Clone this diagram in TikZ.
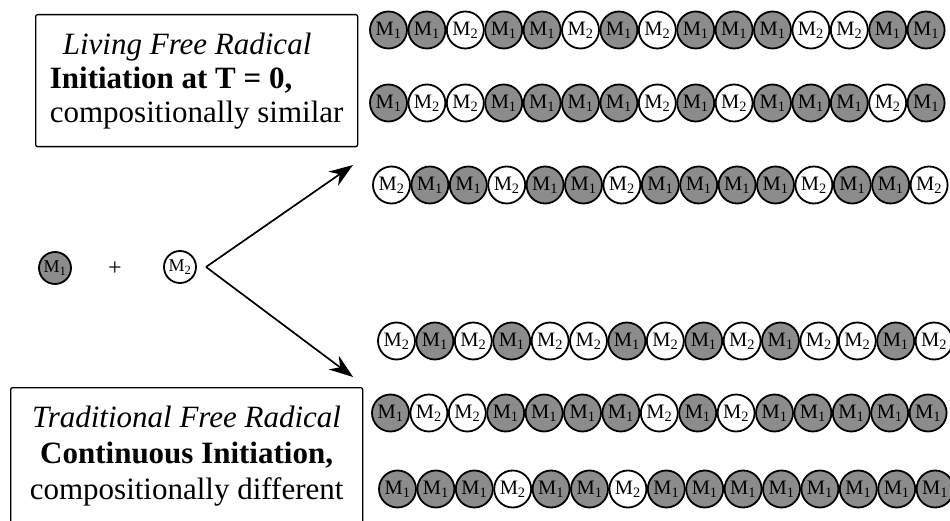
\documentclass[tikz,border=0pt]{standalone}
\usepackage{fontspec}
\setmainfont{Liberation Serif}
\usetikzlibrary{arrows.meta,positioning}
\colorlet{shade1}{black!45}
\colorlet{shade2}{white}
\tikzset{
  >={Stealth[length=24pt,width=17pt]},
  monomer/.style={circle,draw=black,line width=1.8pt,minimum size=37pt,
    inner sep=0pt,fill=shade#1,font=\fontsize{20.5}{20}\selectfont},
  reactant/.style={monomer=#1,minimum size=32pt,font=\fontsize{18}{18}\selectfont},
  infobox/.style={draw=black,line width=1.3pt,rounded corners=2pt,inner sep=0pt,
    anchor=north west,font=\fontsize{31}{34}\selectfont},
  react/.style={->,line width=1.7pt},
}

\begin{document}
\begin{tikzpicture}[x=1pt,y=-1pt]
  \clip (0,0) rectangle (950,521);

  % reactants and the two routes
  \node[reactant=1] (mone) at (55,268) {M\textsubscript{1}};
  \node[font=\fontsize{24}{24}\selectfont] (plus) at (115,269) {+};
  \node[reactant=2] (mtwo) at (180,267) {M\textsubscript{2}};
  \coordinate (split) at (206,267);
  \coordinate (tipup) at (353,165);
  \coordinate (tipdown) at (353,377);
  \draw[react] (split) -- (tipup);
  \draw[react] (split) -- (tipdown);

  % the two captions
  \node[infobox,minimum width=322pt,minimum height=132pt,align=left] (living) at (35,14)
    {\hspace*{13pt}\textit{Living Free Radical}\\
     \textbf{Initiation at T = 0,}\\
     compositionally similar};
  \node[infobox,minimum width=352pt,minimum height=136pt,align=center,
    font=\fontsize{31}{36}\selectfont] (trad) at (10,387)
    {\textit{Traditional Free Radical}\\
     \textbf{Continuous Initiation,}\\
     compositionally different};

  % chains: name/left edge/centre height/sequence
  \foreach \row/\xs/\yc/\seq in {
      a/369/30/{1,1,2,1,1,2,1,2,1,1,1,2,2,1,1},
      b/369/103/{1,2,2,1,1,1,1,2,1,2,1,1,1,2,1},
      c/372/185/{2,1,1,2,1,1,2,1,1,1,1,2,1,1,2},
      d/377/341/{2,1,2,1,2,2,1,2,1,2,1,2,2,1,2},
      e/371/413/{1,2,2,1,1,1,1,2,1,2,1,1,1,1,1},
      f/378/489/{1,1,1,2,1,1,2,1,1,1,1,1,1,1,1}}
  {
    \foreach \m [count=\i] in \seq
      \node[monomer=\m] (\row\i) at ({\xs+19.5+(\i-1)*38.4},\yc) {M\textsubscript{\m}};
  }
\end{tikzpicture}
\end{document}
